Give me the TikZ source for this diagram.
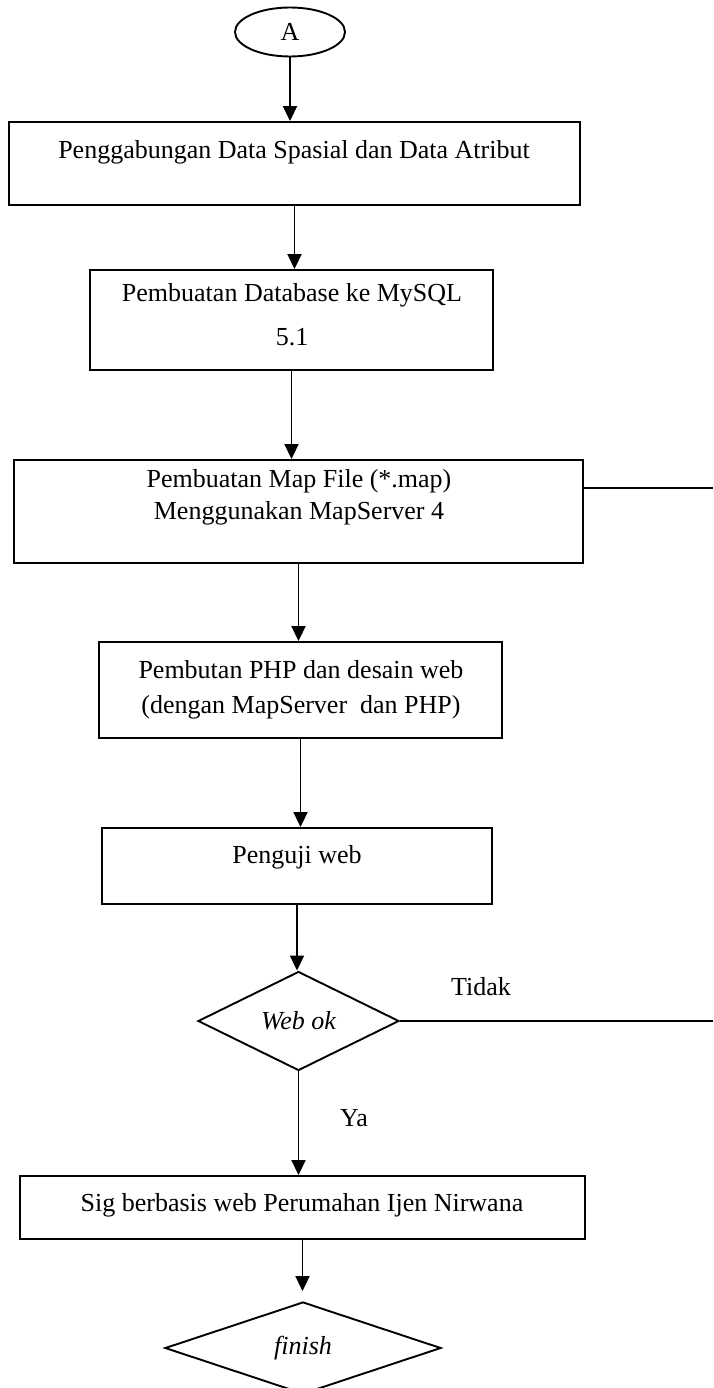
\documentclass[tikz,border=0pt]{standalone}
\usepackage{fontspec}
\setmainfont{Liberation Serif}
\usetikzlibrary{shapes.geometric,arrows.meta}
\begin{document}
\begin{tikzpicture}[x=1pt,y=-1pt,
  every node/.style={font=\fontsize{26}{32}\selectfont},
  box/.style={draw, line width=1.9pt, inner sep=0pt},
  arr/.style={line width=1.9pt, -{Triangle[length=15pt,width=14pt]}},
  ln/.style={line width=1.9pt},
  ital/.style={font=\fontsize{26}{32}\selectfont\itshape}]
\clip (0,0) rectangle (713,1388);
\fill[white] (0,0) rectangle (713,1388);

% start
\node[draw, ellipse, line width=1.9pt, minimum width=110pt, minimum height=49pt, inner sep=0pt] (A) at (290,32) {A};

% boxes
\node[box, minimum width=571pt, minimum height=83pt] (b1) at (294.5,163.5) {};
\node (t1) at (294,152) {Penggabungan Data Spasial dan Data Atribut};

\node[box, minimum width=403pt, minimum height=100pt] (b2) at (291.5,320) {};
\node[align=center] (t2) at (292,315) {Pembuatan Database ke MySQL\\[12pt]5.1};

\node[box, minimum width=569pt, minimum height=103pt] (b3) at (298.5,511.5) {};
\node[align=center] (t3) at (299,497) {Pembuatan Map File (*.map)\\Menggunakan MapServer 4};

\node[box, minimum width=403pt, minimum height=96pt] (b4) at (300.5,690) {};
\node[align=center] (t4) at (301,690) {Pembutan PHP dan desain web\\[3pt](dengan MapServer\ \ dan PHP)};

\node[box, minimum width=390pt, minimum height=76pt] (b5) at (297,866) {};
\node (t5) at (297,857) {Penguji web};

\node[draw, diamond, line width=1.9pt, minimum width=201pt, minimum height=99pt, inner sep=0pt, ital] (d1) at (298.5,1021) {Web ok};

\node[box, minimum width=565pt, minimum height=63pt] (b6) at (302.5,1207.5) {};
\node (t6) at (302,1205) {Sig berbasis web Perumahan Ijen Nirwana};

\node[draw, diamond, line width=1.9pt, minimum width=276pt, minimum height=92pt, inner sep=0pt, ital] (d2) at (303,1348) {finish};

% labels
\node (tidak) at (481,987) {Tidak};
\node (ya) at (354,1118) {Ya};

% connectors
\draw[arr] (A.south) -- (A.south |- b1.north);
\draw[arr] (b1.south) -- (b1.south |- b2.north);
\draw[arr] (b2.south) -- (b2.south |- b3.north);
\draw[arr] (b3.south) -- (b3.south |- b4.north);
\draw[arr] (b4.south) -- (b4.south |- b5.north);
\draw[arr] (b5.south) -- (b5.south |- d1.north);
\draw[arr] (d1.south) -- (d1.south |- b6.north);
\draw[arr] (b6.south) -- ([yshift=10pt]b6.south |- d2.north);

\coordinate (r1) at (713,488);
\draw[ln] (b3.east |- r1) -- (r1);
\coordinate (r2) at (713,1021);
\draw[ln] (d1.east) -- (r2);
\end{tikzpicture}
\end{document}
